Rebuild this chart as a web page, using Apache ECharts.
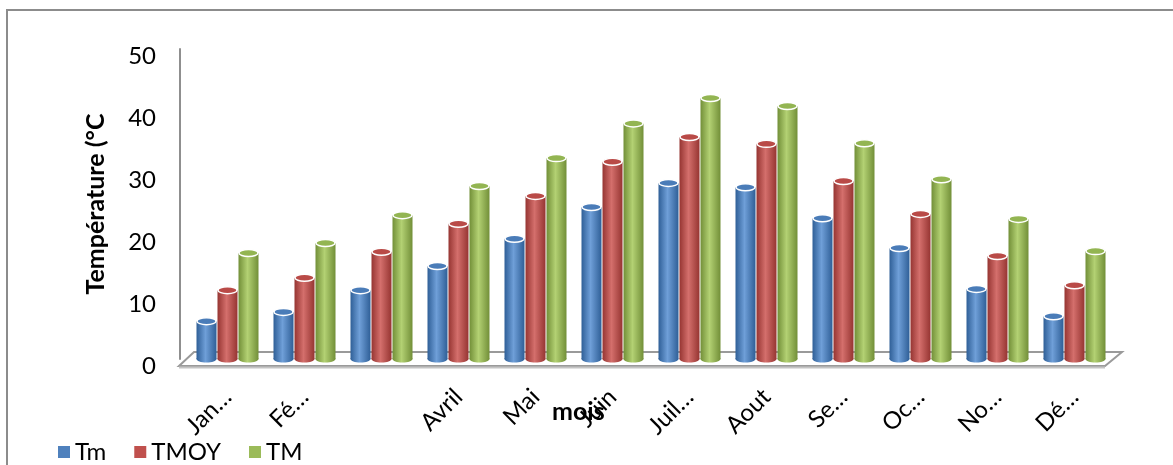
<!DOCTYPE html>
<html>
<head>
<meta charset="utf-8">
<title>Températures mensuelles</title>
<script src="https://cdn.jsdelivr.net/npm/echarts@6/dist/echarts.min.js"></script>
<style>
  html, body { margin: 0; padding: 0; background: #ffffff; }
  #chart { width: 1173px; height: 465px; }
</style>
</head>
<body>
<div id="chart"></div>
<script>
// Months and the (shortened) labels shown under each group
const months = ['Janvier', 'Février', 'Mars', 'Avril', 'Mai', 'Juin', 'Juillet', 'Aout', 'Septembre', 'Octobre', 'Novembre', 'Décembre'];
const tickLabels = ['Jan…', 'Fé…', '', 'Avril', 'Mai', 'Juin', 'Juil…', 'Aout', 'Se…', 'Oc…', 'No…', 'Dé…'];
const yTicks = [0, 10, 20, 30, 40, 50];

// Monthly temperatures (°C)
const tMin = [6.1, 7.6, 11.1, 15.0, 19.4, 24.5, 28.4, 27.7, 22.7, 17.9, 11.3, 6.9];
const tMoy = [11.1, 13.1, 17.3, 21.8, 26.3, 31.8, 35.8, 34.7, 28.7, 23.4, 16.6, 11.9];
const tMax = [17.1, 18.7, 23.2, 27.9, 32.4, 38.0, 42.1, 40.8, 34.8, 29.0, 22.6, 17.4];

const seriesNames = ['Tm', 'TMOY', 'TM'];
const palettes = [
  { base: '#4F81BD', dark: '#2f5f97', light: '#6f9fd8', top: '#4a7cb8' },
  { base: '#C0504D', dark: '#963532', light: '#d46f6c', top: '#b94a47' },
  { base: '#9BBB59', dark: '#728f38', light: '#b3d173', top: '#93b552' }
];

const FONT = 'Lato, "Open Sans", sans-serif';
const BAR_W = 20;
const BAR_STEP = 21;

// Cylinder drawn from the axis scale: body + rounded bottom + elliptical top
function cylinderRenderer(seriesIdx) {
  const pal = palettes[seriesIdx];
  return function (params, api) {
    const idx = api.value(0);
    const val = api.value(1);
    const top = api.coord([idx, val]);
    const base = api.coord([idx, 0]);
    const cx = top[0] + (seriesIdx - 1) * BAR_STEP;
    const rx = BAR_W / 2;
    const ry = 3.5;
    const grad = new echarts.graphic.LinearGradient(0, 0, 1, 0, [
      { offset: 0, color: pal.dark },
      { offset: 0.45, color: pal.light },
      { offset: 1, color: pal.dark }
    ]);
    return {
      type: 'group',
      children: [
        {
          type: 'ellipse',
          shape: { cx: cx, cy: base[1], rx: rx, ry: ry },
          style: { fill: grad }
        },
        {
          type: 'rect',
          shape: { x: cx - rx, y: top[1], width: BAR_W, height: base[1] - top[1] },
          style: { fill: grad }
        },
        {
          type: 'ellipse',
          shape: { cx: cx, cy: top[1], rx: rx - 0.5, ry: ry },
          style: { fill: pal.top, stroke: '#ffffff', lineWidth: 1.5 }
        }
      ]
    };
  };
}

const dataSets = [tMin, tMoy, tMax];

const chart = echarts.init(document.getElementById('chart'), null, { renderer: 'canvas' });

const option = {
  animation: false,
  backgroundColor: '#ffffff',
  textStyle: { fontFamily: FONT, color: '#000000' },
  title: {
    text: 'mois',
    left: 547,
    top: 394,
    textStyle: { fontFamily: FONT, fontSize: 25, fontWeight: 'bold', color: '#000000' }
  },
  legend: {
    left: 53,
    top: 435,
    icon: 'rect',
    itemWidth: 12,
    itemHeight: 12,
    itemGap: 28,
    textStyle: { fontFamily: FONT, fontSize: 24, color: '#000000' },
    data: seriesNames
  },
  grid: { left: 189, right: 60, top: 49, bottom: 106, containLabel: false },
  xAxis: {
    type: 'category',
    data: months,
    axisLine: { show: false },
    axisTick: { show: false },
    axisLabel: {
      interval: 0,
      rotate: 45,
      margin: 34,
      fontFamily: FONT,
      fontSize: 24,
      color: '#000000',
      formatter: function (value, index) { return tickLabels[index]; }
    }
  },
  yAxis: {
    type: 'value',
    min: yTicks[0],
    max: yTicks[yTicks.length - 1],
    interval: 10,
    offset: 9,
    name: 'Température (°C',
    nameLocation: 'middle',
    nameGap: 72,
    nameTextStyle: { fontFamily: FONT, fontSize: 25, fontWeight: 'bold', color: '#000000' },
    axisLine: { show: true, lineStyle: { color: '#8f8f8f', width: 2 } },
    axisTick: { show: false },
    splitLine: { show: false },
    axisLabel: {
      margin: 24,
      fontFamily: FONT,
      fontSize: 24,
      color: '#000000',
      verticalAlign: 'top',
      lineHeight: 14
    }
  },
  series: dataSets.map(function (vals, i) {
    return {
      name: seriesNames[i],
      type: 'custom',
      z: 3,
      itemStyle: { color: palettes[i].base },
      encode: { x: 0, y: 1 },
      data: vals.map(function (v, k) { return [k, v]; }),
      renderItem: cylinderRenderer(i)
    };
  })
};

chart.setOption(option);

// Chart frame and 3D-looking floor, placed from the grid's pixel mapping
const p0 = chart.convertToPixel({ gridIndex: 0 }, [0, 0]);
const rect = chart.getModel().getComponent('grid', 0).coordinateSystem.getRect();
const baseY = p0[1];
const leftX = rect.x;
const rightX = rect.x + rect.width;

chart.setOption({
  graphic: [
    {
      type: 'rect',
      z: 0,
      silent: true,
      shape: { x: 7, y: 10, width: 1200, height: 500 },
      style: { fill: 'none', stroke: '#8c8c8c', lineWidth: 2 }
    },
    {
      type: 'polygon',
      z: 1,
      silent: true,
      shape: {
        points: [
          [leftX - 10, baseY + 7],
          [leftX + 5, baseY - 7],
          [rightX + 9, baseY - 7],
          [rightX - 8, baseY + 7]
        ]
      },
      style: { fill: '#ffffff', stroke: '#9a9a9a', lineWidth: 2 }
    },
    {
      type: 'line',
      z: 1,
      silent: true,
      shape: { x1: leftX - 10, y1: baseY + 8.5, x2: rightX - 8, y2: baseY + 8.5 },
      style: { stroke: '#c4c4c4', lineWidth: 2 }
    }
  ]
});
</script>
</body>
</html>
